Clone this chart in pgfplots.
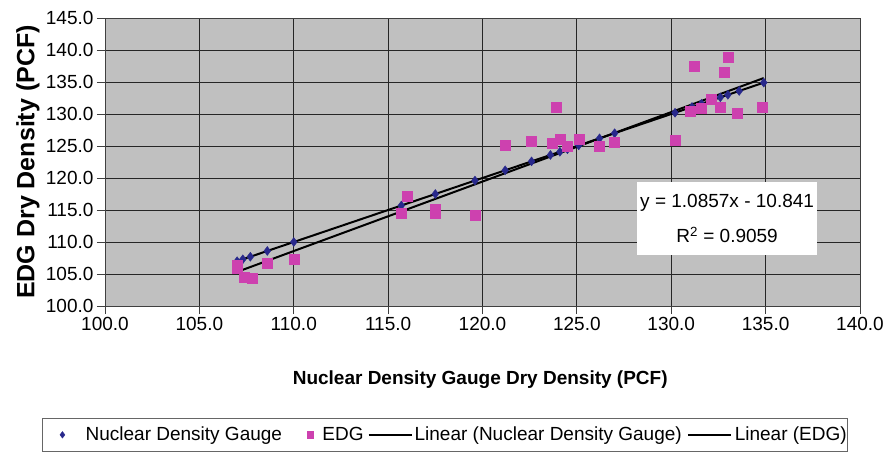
\documentclass[border=0pt]{standalone}
\usepackage{fontspec}
\setmainfont{Liberation Sans}
\usepackage{pgfplots}
\pgfplotsset{compat=1.18}
\definecolor{plotgray}{RGB}{192,192,192}
\definecolor{ndblue}{RGB}{40,40,140}
\definecolor{edgmag}{RGB}{205,65,175}
\pgfplotsset{
  legA/.style={legend image code/.code={\draw[##1, mark size=3.3pt] plot coordinates {(20pt,0pt)}; \path (0pt,0pt) (43pt,0pt);}},
  legB/.style={legend image code/.code={\draw[##1, mark size=3.3pt] plot coordinates {(28pt,0pt)}; \path (0pt,0pt) (40pt,0pt);}},
  legC/.style={legend image code/.code={\draw[##1] (4pt,0pt) -- (47pt,0pt); \path (0pt,0pt) (49pt,0pt);}},
  legD/.style={legend image code/.code={\draw[##1] (5pt,0pt) -- (48pt,0pt); \path (0pt,0pt) (51pt,0pt);}},
}
\begin{document}
\begin{tikzpicture}
\useasboundingbox (0,0) rectangle (885pt,451pt);
\begin{axis}[
  at={(105pt,145pt)}, anchor=south west,
  scale only axis, width=755pt, height=288pt,
  xmin=100, xmax=140, ymin=100, ymax=145,
  xtick={100,105,...,140}, ytick={100,105,...,145},
  axis background/.style={fill=plotgray},
  grid=major, major grid style={black!85, line width=1pt},
  axis line style={black!75, line width=1pt},
  tick align=outside, major tick length=8pt,
  xtick pos=bottom, ytick pos=left,
  tick style={black!75, line width=1pt},
  ticklabel style={font=\fontsize{19}{22}\selectfont},
  /pgf/number format/fixed, /pgf/number format/fixed zerofill,
  /pgf/number format/precision=1, /pgf/number format/assume math mode=true,
  xlabel={Nuclear Density Gauge Dry Density (PCF)},
  ylabel={EDG Dry Density (PCF)},
  every axis x label/.style={at={(axis description cs:0.497,-0.257)}, anchor=center, font=\fontsize{19}{22}\selectfont\bfseries},
  every axis y label/.style={at={(axis description cs:-0.102,0.5)}, rotate=90, anchor=center, font=\fontsize{25}{28}\selectfont\bfseries},
  legend style={at={(-0.0834,-0.3889)}, anchor=north west, draw=black!60, fill=white,
    font=\fontsize{19}{22}\selectfont, legend columns=4,
    inner xsep=0pt, inner ysep=7pt,
    nodes={inner xsep=0pt},
    /tikz/column sep=0pt},
]
\addplot[only marks, mark=diamond*, mark size=4.5pt, color=ndblue, legA]
  coordinates {
  (107.0,107.0) (107.3,107.3) (107.7,107.7) (108.6,108.6) (110.0,110.0)
  (115.7,115.7) (117.5,117.5) (119.6,119.6) (121.2,121.2) (122.6,122.6)
  (123.6,123.6) (124.1,124.1) (124.5,124.5) (125.1,125.1) (126.2,126.2)
  (127.0,127.0) (130.2,130.2) (131.1,131.1) (131.6,131.6) (132.2,132.2)
  (132.6,132.6) (133.0,133.0) (133.6,133.6) (134.9,134.9)
  };
\addlegendentry{Nuclear Density Gauge}
\addplot[only marks, mark=square*, mark size=5pt, color=edgmag, legB]
  coordinates {
  (107.0,106.4) (107.0,105.9) (107.4,104.5) (107.8,104.3) (108.6,106.7)
  (110.0,107.3) (115.7,114.5) (116.0,117.1) (117.5,115.1) (117.5,114.5)
  (119.6,114.2) (121.2,125.2) (122.6,125.8) (123.7,125.5) (123.9,131.1)
  (124.1,126.1) (124.5,125.0) (125.1,126.1) (126.2,124.9) (127.0,125.6)
  (130.2,125.9) (131.0,130.5) (131.2,137.4) (131.6,130.9) (132.1,132.3)
  (132.6,131.1) (132.8,136.5) (133.0,138.8) (133.5,130.1) (134.8,131.0)
  };
\addlegendentry{EDG}
\addplot[black, line width=2pt, legC]
  coordinates {(107.0,107.0) (134.9,134.9)};
\addlegendentry{Linear (Nuclear Density Gauge)}
\addplot[black, line width=2pt, legD]
  coordinates {(107.0,105.33) (134.9,135.62)};
\addlegendentry{Linear (EDG)\hspace{10pt}}
\node[fill=white, inner sep=0pt, minimum width=180pt, minimum height=73pt,
  align=center, font=\fontsize{19}{35}\selectfont]
  at (axis cs:132.96,113.7) {y = 1.0857x - 10.841\\R\textsuperscript{2} = 0.9059};
\end{axis}
\end{tikzpicture}
\end{document}
